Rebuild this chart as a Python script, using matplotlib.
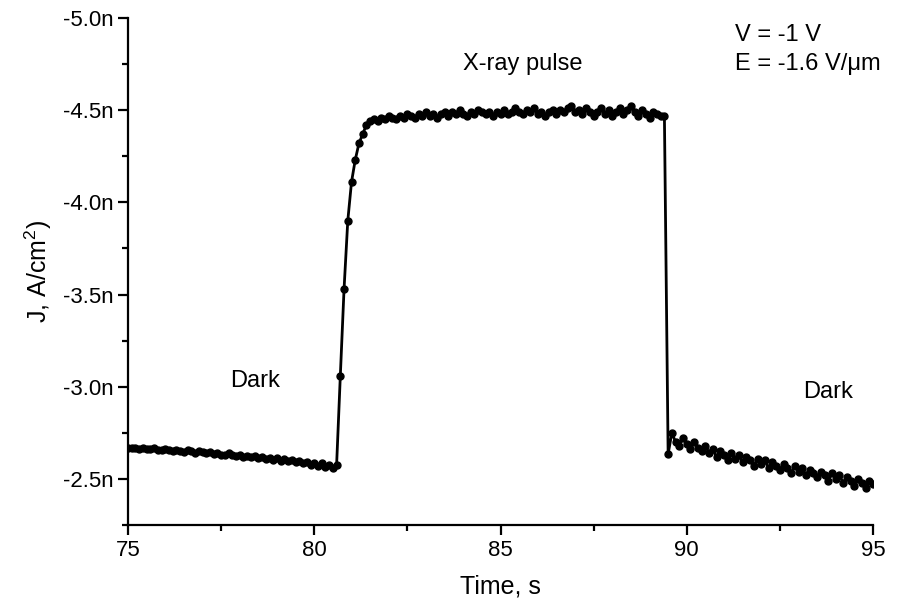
import numpy as np
import matplotlib
matplotlib.use("Agg")
from matplotlib import pyplot as plt
from matplotlib.ticker import MultipleLocator, FuncFormatter

# ---- data (current density in nA/cm^2, sampled every 0.1 s) ----
time_s = np.round(np.arange(75.0, 95.001, 0.1), 1)

dark_before = [
    -2.665, -2.670, -2.668, -2.662, -2.667, -2.660, -2.664, -2.669, -2.658, -2.655,
    -2.662, -2.657, -2.650, -2.658, -2.653, -2.647, -2.655, -2.649, -2.642, -2.650,
    -2.645, -2.640, -2.647, -2.636, -2.643, -2.632, -2.628, -2.638, -2.630, -2.624,
    -2.632, -2.620, -2.626, -2.617, -2.623, -2.612, -2.618, -2.609, -2.615, -2.602,
    -2.611, -2.598, -2.606, -2.596, -2.600, -2.590, -2.598, -2.585, -2.592, -2.578,
    -2.588, -2.572, -2.584, -2.566, -2.578, -2.560, -2.575,
]
rise = [-3.06, -3.53, -3.90, -4.11, -4.23, -4.32, -4.37, -4.42, -4.44]
pulse = [
    -4.45, -4.44, -4.46, -4.45, -4.47, -4.46, -4.45, -4.47, -4.46, -4.48,
    -4.47, -4.46, -4.48, -4.47, -4.49, -4.47, -4.48, -4.46, -4.48, -4.49,
    -4.47, -4.49, -4.48, -4.50, -4.48, -4.47, -4.49, -4.48, -4.50, -4.49,
    -4.48, -4.49, -4.47, -4.49, -4.48, -4.50, -4.48, -4.49, -4.51, -4.49,
    -4.48, -4.50, -4.49, -4.51, -4.48, -4.49, -4.47, -4.49, -4.50, -4.48,
    -4.50, -4.49, -4.51, -4.52, -4.49, -4.50, -4.48, -4.51, -4.49, -4.47,
    -4.49, -4.51, -4.48, -4.50, -4.47, -4.49, -4.51, -4.48, -4.50, -4.52,
    -4.49, -4.47, -4.50, -4.48, -4.46, -4.49, -4.48, -4.47, -4.47,
]
dark_after = [
    -2.635, -2.75, -2.70, -2.68, -2.72, -2.69, -2.66, -2.70, -2.67, -2.65,
    -2.68, -2.64, -2.66, -2.62, -2.65, -2.63, -2.60, -2.64, -2.61, -2.63,
    -2.59, -2.62, -2.60, -2.57, -2.61, -2.58, -2.60, -2.56, -2.59, -2.57,
    -2.55, -2.58, -2.56, -2.53, -2.57, -2.54, -2.56, -2.52, -2.55, -2.53,
    -2.51, -2.54, -2.52, -2.49, -2.53, -2.50, -2.52, -2.48, -2.51, -2.49,
    -2.46, -2.50, -2.48, -2.45, -2.49, -2.47,
]
current = np.array(dark_before + rise + pulse + dark_after)

# ---- plot ----
plt.rcParams["font.family"] = ["Liberation Sans", "DejaVu Sans"]
plt.rcParams["mathtext.fontset"] = "custom"
plt.rcParams["mathtext.rm"] = "Liberation Sans"
plt.rcParams["mathtext.it"] = "Liberation Sans"

fig = plt.figure(figsize=(9.15, 6.1), dpi=100)
ax = fig.add_axes([128 / 915, 1 - 525 / 610, 745 / 915, 507 / 610])

ax.plot(time_s, current, color="black", lw=2.0, marker="o", ms=5)

ax.set_xlim(75, 95)
ax.set_ylim(-2.25, -5.0)
ax.xaxis.set_major_locator(MultipleLocator(5))
ax.xaxis.set_minor_locator(MultipleLocator(2.5))
ax.yaxis.set_major_locator(MultipleLocator(0.5))
ax.yaxis.set_minor_locator(MultipleLocator(0.25))
ax.yaxis.set_major_formatter(FuncFormatter(lambda v, p: "%.1fn" % v))

for s in ["top", "right"]:
    ax.spines[s].set_visible(False)
for s in ["left", "bottom"]:
    ax.spines[s].set_linewidth(1.6)
ax.tick_params(which="major", direction="out", length=7, width=1.6, labelsize=16)
ax.tick_params(which="minor", direction="out", length=4, width=1.6)

ax.set_xlabel("Time, s", fontsize=18, labelpad=10)
ax.set_ylabel("J, A/cm$^{2}$)", fontsize=18, labelpad=6)

ax.text(85.6, -4.75, "X-ray pulse", fontsize=17, ha="center", va="center")
ax.text(78.4, -3.03, "Dark", fontsize=17, ha="center", va="center")
ax.text(93.8, -2.97, "Dark", fontsize=17, ha="center", va="center")
ax.text(91.3, -4.91, "V = -1 V", fontsize=17, ha="left", va="center")
ax.text(91.3, -4.75, "E = -1.6 V/\u03bcm", fontsize=17, ha="left", va="center")

fig.savefig("out.png", dpi=100)
